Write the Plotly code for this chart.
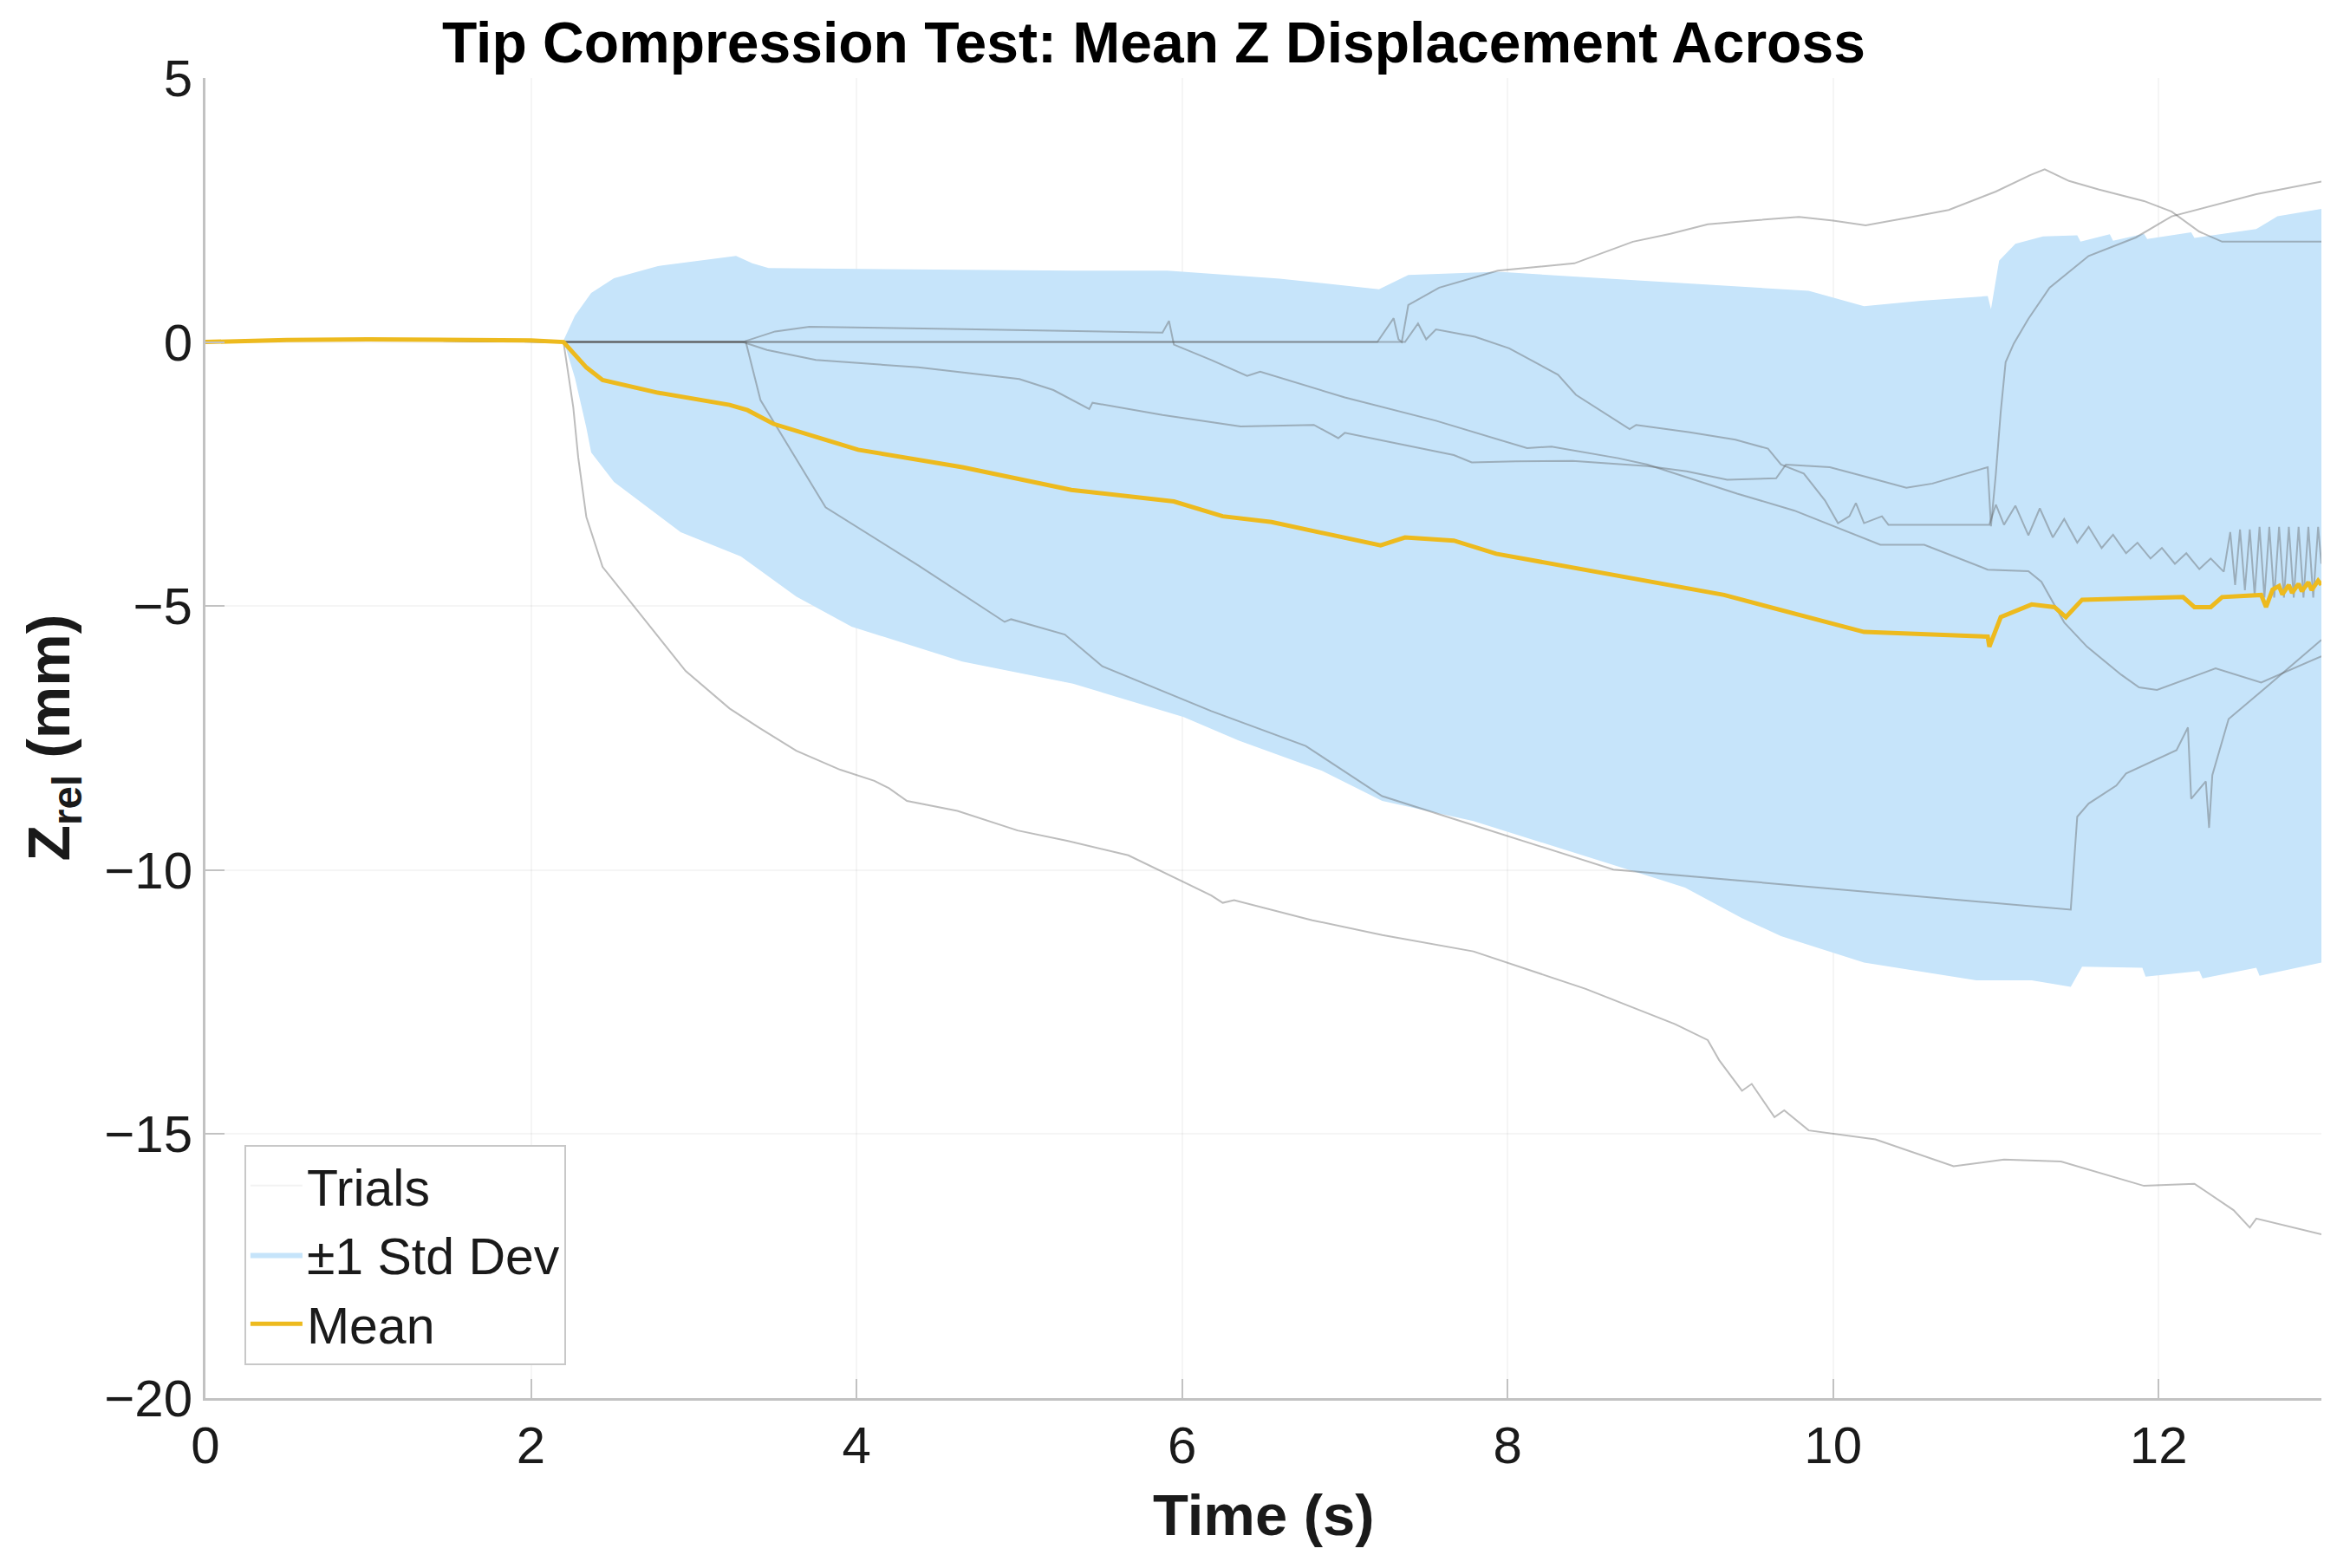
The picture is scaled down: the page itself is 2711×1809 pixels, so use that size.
import plotly.graph_objects as go

# ---- data ----
# individual trials (time s, Z_rel mm)
trial1_t = [0, 0.5, 1.0, 1.5, 2.0, 2.2, 2.26, 2.29, 2.34, 2.44, 2.61, 2.80, 2.95, 3.22, 3.40, 3.63, 3.90, 4.11, 4.20, 4.31, 4.62, 4.99, 5.30, 5.67, 6.18, 6.25, 6.32, 6.80, 7.23, 7.79, 8.48, 9.03, 9.23, 9.30, 9.44, 9.50, 9.64, 9.70, 9.85, 10.26, 10.74, 11.05, 11.40, 11.91, 12.22, 12.46, 12.56, 12.60, 13.0]
trial1_y = [0.0, 0.05, 0.06, 0.04, 0.03, 0.0, -1.24, -2.18, -3.31, -4.26, -4.92, -5.65, -6.23, -6.94, -7.30, -7.74, -8.10, -8.31, -8.45, -8.69, -8.88, -9.25, -9.45, -9.72, -10.48, -10.62, -10.57, -10.95, -11.23, -11.54, -12.25, -12.92, -13.22, -13.60, -14.18, -14.05, -14.68, -14.55, -14.93, -15.10, -15.61, -15.48, -15.52, -15.98, -15.94, -16.44, -16.77, -16.60, -16.90]

trial2_t = [0, 1.0, 2.2, 3.3, 5.0, 7.2, 7.3, 7.33, 7.35, 7.39, 7.58, 7.94, 8.41, 8.77, 9.0, 9.23, 9.50, 9.79, 10.0, 10.20, 10.45, 10.71, 11.0, 11.21, 11.30, 11.35, 11.45, 11.63, 11.91, 12.08, 12.25, 12.39, 13.0]
trial2_y = [0.02, 0.04, 0.0, 0.0, 0.0, 0.0, 0.45, 0.05, 0.0, 0.70, 1.03, 1.35, 1.49, 1.90, 2.05, 2.23, 2.30, 2.37, 2.30, 2.21, 2.35, 2.50, 2.85, 3.16, 3.27, 3.20, 3.05, 2.89, 2.67, 2.47, 2.09, 1.90, 1.90]

trial3_t = [0, 1.0, 2.2, 5.0, 7.37, 7.45, 7.50, 7.56, 7.80, 8.01, 8.31, 8.42, 8.60, 8.75, 8.79, 9.12, 9.40, 9.60, 9.68, 9.82, 9.95, 10.03, 10.10, 10.14, 10.19, 10.30, 10.34, 10.60, 10.96, 11.00, 11.05, 11.12, 11.20, 11.27, 11.35, 11.42, 11.50, 11.57, 11.65, 11.72, 11.80, 11.87, 11.95, 12.02, 12.10, 12.17, 12.25, 12.32, 12.40, 12.44, 12.47, 12.50, 12.53, 12.56, 12.59, 12.62, 12.65, 12.68, 12.71, 12.74, 12.77, 12.80, 12.83, 12.86, 12.89, 12.92, 12.95, 12.98, 13.0]
trial3_y = [0.02, 0.04, 0.0, 0.0, 0.0, 0.35, 0.05, 0.24, 0.10, -0.12, -0.62, -1.0, -1.35, -1.65, -1.57, -1.71, -1.85, -2.02, -2.32, -2.49, -3.0, -3.43, -3.30, -3.05, -3.43, -3.30, -3.46, -3.46, -3.46, -3.08, -3.46, -3.10, -3.66, -3.15, -3.70, -3.35, -3.80, -3.50, -3.90, -3.65, -4.0, -3.80, -4.10, -3.90, -4.20, -4.00, -4.30, -4.10, -4.35, -3.60, -4.60, -3.55, -4.70, -3.55, -4.80, -3.50, -4.84, -3.50, -4.84, -3.50, -4.84, -3.50, -4.84, -3.50, -4.84, -3.50, -4.84, -3.50, -4.2]

trial4_t = [0, 1.0, 2.2, 3.30, 3.45, 3.75, 4.38, 5.0, 5.21, 5.43, 5.45, 5.88, 6.36, 6.81, 6.96, 7.0, 7.67, 7.78, 8.05, 8.40, 8.86, 9.10, 9.35, 9.65, 9.71, 9.98, 10.20, 10.45, 10.61, 10.80, 10.95, 10.97, 11.00, 11.03, 11.06, 11.11, 11.20, 11.33, 11.57, 11.86, 12.08, 12.60, 13.0]
trial4_y = [0.02, 0.04, 0.0, 0.0, -0.15, -0.34, -0.48, -0.70, -0.91, -1.27, -1.15, -1.38, -1.60, -1.57, -1.82, -1.72, -2.14, -2.28, -2.26, -2.25, -2.35, -2.45, -2.61, -2.58, -2.32, -2.37, -2.55, -2.76, -2.68, -2.50, -2.37, -3.49, -2.49, -1.32, -0.38, -0.03, 0.44, 1.03, 1.63, 1.98, 2.38, 2.80, 3.04]

trial5_t = [0, 1.0, 2.2, 3.30, 3.50, 3.71, 4.5, 5.5, 5.88, 5.92, 5.95, 6.18, 6.40, 6.48, 7.0, 7.56, 8.12, 8.27, 8.68, 8.86, 9.41, 9.76, 10.09, 10.29, 10.56, 10.95, 11.20, 11.28, 11.42, 11.56, 11.77, 11.88, 11.99, 12.35, 12.63, 13.0]
trial5_y = [0.02, 0.04, 0.0, 0.0, 0.20, 0.29, 0.25, 0.20, 0.18, 0.40, -0.05, -0.34, -0.64, -0.56, -1.05, -1.49, -2.01, -1.98, -2.20, -2.32, -2.87, -3.19, -3.60, -3.84, -3.84, -4.31, -4.34, -4.54, -5.31, -5.77, -6.30, -6.54, -6.59, -6.18, -6.45, -5.95]

trial6_t = [0, 1.0, 2.2, 3.32, 3.41, 3.81, 4.38, 4.91, 4.95, 5.28, 5.51, 5.95, 6.18, 6.76, 7.23, 7.79, 8.65, 11.46, 11.50, 11.57, 11.74, 11.80, 12.11, 12.18, 12.20, 12.29, 12.31, 12.33, 12.43, 12.66, 13.0]
trial6_y = [0.02, 0.04, 0.0, 0.0, -1.10, -3.13, -4.23, -5.30, -5.25, -5.54, -6.14, -6.69, -6.99, -7.65, -8.60, -9.15, -9.99, -10.75, -8.99, -8.74, -8.40, -8.17, -7.73, -7.30, -8.65, -8.32, -9.20, -8.20, -7.14, -6.54, -5.64]

# mean across trials
mean_t = [0, 0.5, 1.0, 1.5, 2.0, 2.20, 2.34, 2.44, 2.78, 3.22, 3.33, 3.49, 4.01, 4.65, 5.32, 5.95, 6.25, 6.55, 7.17, 7.22, 7.37, 7.67, 7.93, 8.82, 9.12, 9.33, 10.19, 10.95, 10.96, 11.03, 11.22, 11.36, 11.43, 11.53, 12.15, 12.22, 12.32, 12.39, 12.63, 12.66, 12.70, 12.74, 12.76, 12.80, 12.82, 12.86, 12.88, 12.92, 12.94, 12.98, 13.0]
mean_y = [0.0, 0.04, 0.05, 0.04, 0.03, 0.0, -0.48, -0.72, -0.96, -1.19, -1.29, -1.55, -2.04, -2.37, -2.80, -3.02, -3.30, -3.41, -3.83, -3.85, -3.70, -3.76, -4.01, -4.50, -4.66, -4.79, -5.49, -5.58, -5.77, -5.21, -4.97, -5.02, -5.21, -4.88, -4.83, -5.02, -5.02, -4.83, -4.79, -5.02, -4.69, -4.62, -4.78, -4.60, -4.75, -4.58, -4.72, -4.55, -4.70, -4.52, -4.60]

# +/-1 std band edges
upper_t = [0, 2.2, 2.27, 2.37, 2.51, 2.78, 3.26, 3.36, 3.46, 4.31, 5.33, 5.91, 6.60, 7.21, 7.39, 7.94, 8.82, 9.85, 10.19, 10.54, 10.95, 10.97, 11.02, 11.12, 11.29, 11.50, 11.52, 11.70, 11.72, 11.91, 11.93, 12.20, 12.22, 12.60, 12.73, 13.0]
upper_y = [0.03, 0.03, 0.50, 0.93, 1.21, 1.44, 1.63, 1.49, 1.40, 1.38, 1.35, 1.35, 1.20, 1.00, 1.27, 1.33, 1.16, 0.97, 0.68, 0.78, 0.87, 0.62, 1.54, 1.86, 2.00, 2.02, 1.90, 2.04, 1.92, 2.05, 1.95, 2.08, 1.97, 2.14, 2.38, 2.52]
lower_t = [0, 2.2, 2.27, 2.34, 2.37, 2.51, 2.92, 3.29, 3.63, 3.97, 4.65, 5.33, 6.01, 6.35, 6.86, 7.23, 7.79, 8.48, 9.09, 9.44, 9.68, 10.19, 10.88, 11.22, 11.46, 11.53, 11.90, 11.92, 12.25, 12.27, 12.60, 12.62, 13.0]
lower_y = [0.03, 0.03, -0.68, -1.62, -2.09, -2.65, -3.60, -4.06, -4.82, -5.39, -6.05, -6.47, -7.10, -7.55, -8.12, -8.69, -9.07, -9.74, -10.33, -10.91, -11.25, -11.75, -12.09, -12.09, -12.21, -11.83, -11.85, -12.02, -11.91, -12.05, -11.85, -12.0, -11.75]

x_ticks = [0, 2, 4, 6, 8, 10, 12]
y_ticks = [-20, -15, -10, -5, 0, 5]
y_ticklabels = ['\u221220', '\u221215', '\u221210', '\u22125', '0', '5']

trials = [(trial1_t, trial1_y), (trial2_t, trial2_y), (trial3_t, trial3_y),
          (trial4_t, trial4_y), (trial5_t, trial5_y), (trial6_t, trial6_y)]

FONT = "Liberation Sans, Arial, Helvetica, sans-serif"
band_color = '#C6E4FA'
trial_color = 'rgba(90,90,90,0.40)'
mean_color = '#EDBA1E'
axis_color = '#c2c2c2'

fig = go.Figure()

# shaded band
fig.add_trace(go.Scatter(
    x=upper_t + lower_t[::-1], y=upper_y + lower_y[::-1],
    fill='toself', fillcolor=band_color, mode='lines', line=dict(width=0),
    name='\u00b11 Std Dev', legendrank=2, hoverinfo='skip'))

# trials
for tt, yy in trials:
    fig.add_trace(go.Scatter(x=tt, y=yy, mode='lines',
                             line=dict(color=trial_color, width=2),
                             showlegend=False, legendgroup='trials'))
# legend entry for trials (faint, like the reference)
fig.add_trace(go.Scatter(x=[None], y=[None], mode='lines',
                         line=dict(color='rgba(0,0,0,0.05)', width=2),
                         name='Trials', legendgroup='trials', legendrank=1))

# mean
fig.add_trace(go.Scatter(x=mean_t, y=mean_y, mode='lines',
                         line=dict(color=mean_color, width=5),
                         name='Mean', legendrank=3))

# page has an 8px body margin, so the figure is a bit smaller than the window
fig.update_layout(
    width=2703, height=1801,
    margin=dict(l=229, r=33, t=82, b=196),
    paper_bgcolor='white', plot_bgcolor='white',
    font=dict(family=FONT, size=60, color='#1a1a1a'),
    showlegend=True,
    legend=dict(x=0.0184, y=0.025, xanchor='left', yanchor='bottom',
                bgcolor='white', bordercolor='#c8c8c8', borderwidth=2,
                font=dict(size=59, color='#1a1a1a'), itemwidth=60,
                tracegroupgap=0),
    annotations=[
        dict(text='<b>Tip Compression Test: Mean Z Displacement Across</b>',
             x=0.448, y=1.027, xref='paper', yref='paper',
             xanchor='center', yanchor='middle', showarrow=False,
             font=dict(size=66, color='black')),
        dict(text='<b>Time (s)</b>', x=0.5, y=-0.088, xref='paper', yref='paper',
             xanchor='center', yanchor='middle', showarrow=False,
             font=dict(size=67, color='#1a1a1a')),
        dict(text='<b>Z<sub>rel</sub> (mm)</b>', x=-0.0725, y=0.5,
             xref='paper', yref='paper', xanchor='center', yanchor='middle',
             textangle=-90, showarrow=False,
             font=dict(size=68, color='#1a1a1a')),
    ],
)

fig.update_xaxes(range=[0, 13], tickvals=x_ticks, showline=True,
                 linecolor=axis_color, linewidth=3, ticks='inside', ticklen=22,
                 tickwidth=2, tickcolor=axis_color, showgrid=True,
                 gridcolor='rgba(0,0,0,0.04)', gridwidth=2, zeroline=False)
fig.update_yaxes(range=[-20, 5], tickvals=y_ticks, ticktext=y_ticklabels,
                 showline=True, linecolor=axis_color, linewidth=3,
                 ticks='inside', ticklen=22, tickwidth=2, tickcolor=axis_color,
                 showgrid=True, gridcolor='rgba(0,0,0,0.04)', gridwidth=2,
                 zeroline=False)

fig.write_html("out.html")
